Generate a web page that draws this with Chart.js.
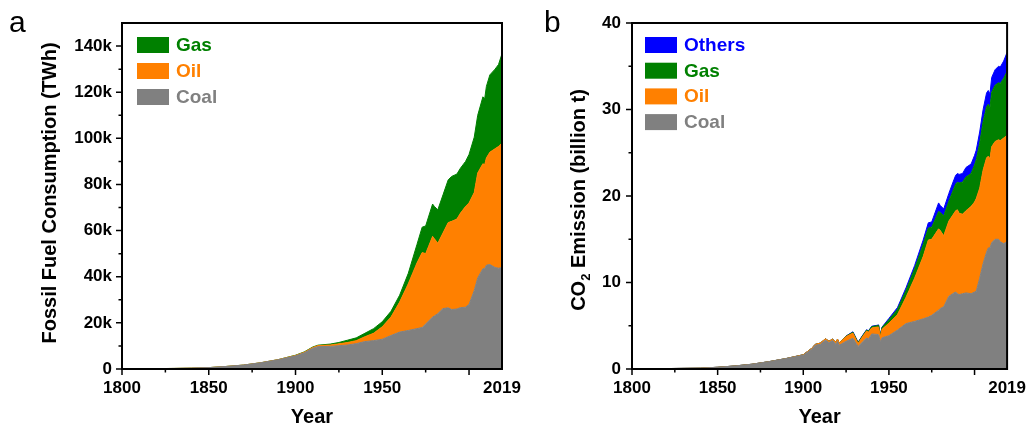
<!DOCTYPE html>
<html>
<head>
<meta charset="utf-8">
<title>Fossil fuel consumption and CO2 emission, 1800-2019</title>
<script src="https://cdn.jsdelivr.net/npm/chart.js@4.4.1/dist/chart.umd.min.js"></script>
<style>
  html, body { margin: 0; padding: 0; background: #fff; }
  #wrap { position: relative; width: 1035px; height: 427px; overflow: hidden; }
  #wrap canvas { position: absolute; left: 0; top: 0; }
  .tag { position: absolute; font-family: "Liberation Sans", Arial, sans-serif; font-size: 30px; line-height: 30px; color: #000; }
</style>
</head>
<body>
<div id="wrap">
  <canvas id="fuel" width="1035" height="427" style="width:1035px;height:427px"></canvas>
  <canvas id="co2" width="1035" height="427" style="width:1035px;height:427px"></canvas>
  <div class="tag" style="left:9px;top:7px">a</div>
  <div class="tag" style="left:544px;top:7px">b</div>
</div>
<script>
// ---- Panel a: fossil fuel consumption (TWh) ----
const fuelYears = [1800,1810,1820,1830,1840,1850,1860,1870,1880,1890,
  1900,1905,1910,1913,1920,1925,1930,1935,1940,1945,
  1950,1955,1960,1965,1970,1973,1975,1979,1980,1982,
  1985,1988,1990,1993,1995,1998,2000,2003,2005,2008,
  2009,2010,2012,2015,2017,2019];
const fuelCoal = [100,130,170,250,380,600,1100,1700,2700,4000,
  5700,7000,9000,9700,9800,10100,10400,11000,11900,12300,
  12900,14500,16000,16700,17500,18000,19500,22500,23000,24000,
  26200,26500,25800,26000,26600,26800,28000,34000,39500,43500,
  43500,45000,45300,44000,43700,44000];
const fuelOil = [0,0,0,0,0,0,0,0,20,60,
  180,250,370,450,600,800,1100,1300,2100,3200,
  5400,8000,13000,20300,28500,32500,30500,35000,33500,30500,
  32800,37000,38200,39000,40900,43700,44000,42500,45500,45500,
  45000,46500,48700,51500,52800,54000];
const fuelGas = [0,0,0,0,0,0,0,0,0,0,
  100,150,200,200,400,600,1000,1200,1500,2000,
  2200,2500,3000,4500,8000,11000,12000,14000,14000,14500,
  16500,18500,19500,19500,19500,19500,21000,24000,25000,29000,
  28500,31000,33500,34500,35500,38700];
const fuelTickValues = [0,20000,40000,60000,80000,100000,120000,140000];
const fuelTickLabels = ['0','20k','40k','60k','80k','100k','120k','140k'];
const fuelMinorTicks = [10000,30000,50000,70000,90000,110000,130000];

// ---- Panel b: CO2 emission (billion t) ----
const co2Years = [1800,1820,1840,1850,1860,1870,1880,1890,
  1900,1905,1907,1910,1913,1915,1917,1918,1919,1920,
  1921,1925,1929,1932,1935,1937,1938,1940,1943,1944,
  1945,1946,1950,1955,1960,1965,1970,1973,1975,1979,
  1980,1982,1985,1988,1989,1990,1991,1993,1995,1998,
  2000,2001,2003,2005,2007,2008,2009,2010,2012,2014,
  2015,2017,2019];
const co2Coal = [0.03,0.05,0.1,0.2,0.35,0.55,0.85,1.2,
  1.6,2.3,2.75,2.85,3.35,3.05,3.3,3.1,2.85,3.2,
  2.75,3.2,3.55,2.6,3.2,3.6,3.45,4.05,4.0,3.95,
  3.15,3.6,3.85,4.5,5.25,5.5,5.8,6.0,6.2,6.8,
  7.0,7.2,8.4,8.8,8.9,8.7,8.6,8.7,8.8,8.7,
  8.9,9.0,10.5,12.2,13.5,14.0,14.0,14.6,15.0,15.0,
  14.7,14.5,14.7];
const co2Oil = [0,0,0,0,0,0,0,0.01,
  0.05,0.1,0.1,0.15,0.15,0.15,0.15,0.2,0.25,0.25,
  0.25,0.55,0.6,0.35,0.65,0.8,0.8,0.7,0.85,0.9,
  0.6,1.0,1.45,1.8,3.05,5.0,7.2,8.9,8.8,9.4,
  9.0,8.2,8.7,9.2,9.4,9.7,9.4,9.2,9.5,10.1,
  10.4,10.7,10.4,10.8,10.9,10.6,10.3,11.1,11.3,11.5,
  11.7,12.2,12.3];
const co2Gas = [0,0,0,0,0,0,0,0,
  0,0,0,0,0,0,0,0,0,0,
  0,0.05,0.1,0.1,0.1,0.1,0.1,0.15,0.15,0.2,
  0.15,0.2,0.4,0.6,0.8,1.1,1.4,1.4,1.4,2.0,
  2.1,2.3,2.3,2.9,3.1,3.2,3.5,3.7,3.9,3.8,
  4.3,4.5,5.2,5.6,5.9,6.0,5.9,6.3,6.5,6.6,
  6.6,6.9,7.4];
const co2Others = [0,0,0,0,0,0,0,0,
  0,0,0,0,0,0,0,0,0,0,
  0,0.02,0.05,0.05,0.05,0.05,0.05,0.05,0.05,0.05,
  0.05,0.05,0.15,0.2,0.3,0.35,0.5,0.6,0.6,1.0,
  0.8,0.8,0.9,1.0,1.0,1.0,1.0,1.0,1.1,1.1,
  1.1,1.1,1.3,1.4,1.6,1.6,1.6,1.7,1.8,1.9,
  1.9,2.0,2.2];
const co2TickValues = [0,10,20,30,40];
const co2TickLabels = ['0','10','20','30','40'];
const co2MinorTicks = [5,15,25,35];

// ---- shared x axis ----
const yearLabelTicks = [1800,1850,1900,1950,2019];
const yearMajorTicks = [1800,1850,1900,1950,2000];
const yearMinorTicks = [1825,1875,1925,1975];

const COLORS = { coal: '#808080', oil: '#ff8000', gas: '#008000', others: '#0000ff' };
const FONT = '"Liberation Sans", Arial, Helvetica, sans-serif';
Chart.defaults.font.family = FONT;

function series(label, years, values, color, fill) {
  return {
    label,
    data: years.map((y, i) => ({ x: y, y: values[i] })),
    backgroundColor: color,
    borderColor: color,
    borderWidth: 1,
    pointRadius: 0,
    tension: 0,
    fill
  };
}

// frame, tick marks, axis titles and in-plot legend
function decor(cfg) {
  return {
    id: 'decor_' + cfg.name,
    afterDraw(chart) {
      const { ctx, chartArea: a } = chart;
      const xs = chart.scales.x, ys = chart.scales.y;
      ctx.save();
      ctx.strokeStyle = '#000';
      ctx.lineWidth = 1.5;
      ctx.beginPath();
      yearMajorTicks.forEach(v => { const p = xs.getPixelForValue(v); ctx.moveTo(p, a.bottom); ctx.lineTo(p, a.bottom + 6); });
      yearMinorTicks.forEach(v => { const p = xs.getPixelForValue(v); ctx.moveTo(p, a.bottom); ctx.lineTo(p, a.bottom + 3.5); });
      cfg.yMajor.forEach(v => { const p = ys.getPixelForValue(v); ctx.moveTo(a.left, p); ctx.lineTo(a.left - 6, p); });
      cfg.yMinor.forEach(v => { const p = ys.getPixelForValue(v); ctx.moveTo(a.left, p); ctx.lineTo(a.left - 3.5, p); });
      ctx.stroke();
      ctx.lineWidth = 2;
      ctx.strokeRect(a.left, a.top, a.right - a.left, a.bottom - a.top);

      // legend, top series first
      const items = chart.data.datasets.slice().reverse();
      ctx.font = 'bold 19px ' + FONT;
      ctx.textBaseline = 'alphabetic';
      ctx.textAlign = 'left';
      items.forEach((d, i) => {
        const top = cfg.legendTop + i * cfg.legendStep;
        ctx.fillStyle = d.backgroundColor;
        ctx.fillRect(cfg.legendLeft, top, 32, 16);
        ctx.fillText(d.label, cfg.legendLeft + 39, top + 14);
      });

      // x title
      ctx.fillStyle = '#000';
      ctx.font = 'bold 20px ' + FONT;
      ctx.textAlign = 'center';
      ctx.fillText('Year', (a.left + a.right) / 2, 423);

      // y title, rotated
      ctx.save();
      ctx.translate(cfg.yTitleX, cfg.yTitleY);
      ctx.rotate(-Math.PI / 2);
      ctx.textBaseline = 'middle';
      ctx.textAlign = 'left';
      const parts = cfg.yTitle;
      const widths = parts.map(p => { ctx.font = 'bold ' + p.size + 'px ' + FONT; return ctx.measureText(p.text).width; });
      let x = -widths.reduce((s, w) => s + w, 0) / 2;
      parts.forEach((p, i) => {
        ctx.font = 'bold ' + p.size + 'px ' + FONT;
        ctx.fillText(p.text, x, p.shift || 0);
        x += widths[i];
      });
      ctx.restore();
      ctx.restore();
    }
  };
}

function makeChart(id, cfg) {
  return new Chart(document.getElementById(id), {
    type: 'line',
    data: { datasets: cfg.datasets },
    options: {
      responsive: false,
      animation: false,
      layout: { padding: { left: 0, top: 23, right: 1035 - cfg.plotRight, bottom: 0 } },
      plugins: { legend: { display: false }, tooltip: { enabled: false } },
      scales: {
        x: {
          type: 'linear', min: 1800, max: 2019,
          grid: { display: false, drawTicks: false },
          border: { display: false },
          afterBuildTicks: s => { s.ticks = yearLabelTicks.map(v => ({ value: v })); },
          afterFit: s => { s.height = 427 - 369; },
          ticks: {
            autoSkip: false, maxRotation: 0, padding: 9,
            color: '#000', font: { size: 17, weight: 'bold' },
            callback: v => String(v)
          }
        },
        y: {
          stacked: true, min: 0, max: cfg.yMax,
          grid: { display: false, drawTicks: false },
          border: { display: false },
          afterBuildTicks: s => { s.ticks = cfg.yMajor.map(v => ({ value: v })); },
          afterFit: s => { s.width = cfg.plotLeft; },
          ticks: {
            autoSkip: false, padding: cfg.yPad,
            color: '#000', font: { size: 17, weight: 'bold' },
            callback: v => cfg.yLabels[cfg.yMajor.indexOf(v)]
          }
        }
      }
    },
    plugins: [decor(cfg)]
  });
}

makeChart('fuel', {
  name: 'fuel',
  plotLeft: 122, plotRight: 502, yMax: 150000, yPad: 10,
  yMajor: fuelTickValues, yLabels: fuelTickLabels, yMinor: fuelMinorTicks,
  legendLeft: 137, legendTop: 37, legendStep: 26,
  yTitleX: 50, yTitleY: 193,
  yTitle: [{ text: 'Fossil Fuel Consumption (TWh)', size: 20 }],
  datasets: [
    series('Coal', fuelYears, fuelCoal, COLORS.coal, 'origin'),
    series('Oil', fuelYears, fuelOil, COLORS.oil, '-1'),
    series('Gas', fuelYears, fuelGas, COLORS.gas, '-1')
  ]
});

makeChart('co2', {
  name: 'co2',
  plotLeft: 632, plotRight: 1013, yMax: 40, yPad: 11,
  yMajor: co2TickValues, yLabels: co2TickLabels, yMinor: co2MinorTicks,
  legendLeft: 645, legendTop: 37, legendStep: 25.7,
  yTitleX: 579, yTitleY: 200,
  yTitle: [
    { text: 'CO', size: 20 },
    { text: '2', size: 13, shift: 7 },
    { text: ' Emission (billion t)', size: 20 }
  ],
  datasets: [
    series('Coal', co2Years, co2Coal, COLORS.coal, 'origin'),
    series('Oil', co2Years, co2Oil, COLORS.oil, '-1'),
    series('Gas', co2Years, co2Gas, COLORS.gas, '-1'),
    series('Others', co2Years, co2Others, COLORS.others, '-1')
  ]
});
</script>
</body>
</html>
